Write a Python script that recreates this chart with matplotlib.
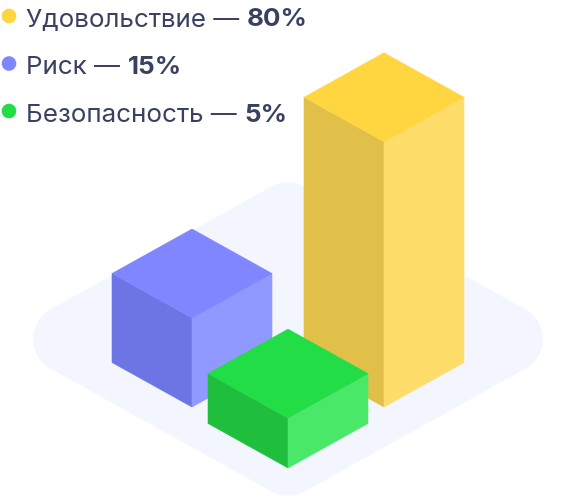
import matplotlib
matplotlib.use("Agg")
import matplotlib.pyplot as plt
from matplotlib.patches import Polygon, Circle
import numpy as np

# ---- data ----
labels = ["Удовольствие", "Риск", "Безопасность"]
shares = [80, 15, 5]
bar_heights = [2.98, 1.0, 0.56]          # drawn height of each block, in cube edges
top_colors = ["#FFD640", "#7F86FF", "#22DD45"]
left_colors = ["#E0C049", "#6C75E3", "#1FBF3D"]
right_colors = ["#FFDD6A", "#8F99FF", "#4AE868"]

# ---- layout (isometric grid) ----
footprints = [(1.2, -1.2), (0.0, 0.0), (1.285, 0.085)]   # back corner of each block (u, v)
OX, OY = 192.0, 319.0      # screen position of grid origin (px)
W, H, V = 80.0, 44.5, 89.0 # px per unit along u/v (horizontal, vertical) and per unit height
plat_center = (0.836, -0.364)
plat_half = 1.38
plat_radius = 34.0
text_color = "#3A4160"
plat_color = "#F3F6FE"

def proj(u, v, z=0.0):
    return (OX + (u - v) * W, OY + (u + v) * H - z * V)

fig = plt.figure(figsize=(5.76, 5.02), dpi=100)
ax = fig.add_axes([0, 0, 1, 1])
ax.set_xlim(0, 576)
ax.set_ylim(502, 0)
ax.axis("off")

# ---- platform: rounded rhombus ----
cu, cv = plat_center
s = plat_half
verts = np.array([proj(cu - s, cv - s), proj(cu + s, cv - s),
                  proj(cu + s, cv + s), proj(cu - s, cv + s)])
cen = verts.mean(axis=0)
n = len(verts)
normals = []
for i in range(n):
    p, q = verts[i], verts[(i + 1) % n]
    d = q - p
    nrm = np.array([d[1], -d[0]]) / np.hypot(*d)
    if np.dot(nrm, (p + q) / 2 - cen) < 0:
        nrm = -nrm
    normals.append(nrm)
outline = []
for i in range(n):
    n_prev = normals[i - 1]
    n_next = normals[i]
    a0 = np.arctan2(n_prev[1], n_prev[0])
    a1 = np.arctan2(n_next[1], n_next[0])
    da = (a1 - a0 + np.pi) % (2 * np.pi) - np.pi
    for t in np.linspace(0, 1, 40):
        a = a0 + da * t
        outline.append(verts[i] + plat_radius * np.array([np.cos(a), np.sin(a)]))
ax.add_patch(Polygon(outline, closed=True, facecolor=plat_color, edgecolor="none", zorder=1))

# ---- blocks ----
order = sorted(range(len(labels)), key=lambda i: footprints[i][0] + footprints[i][1])
z = 2
for i in order:
    u0, v0 = footprints[i]
    h = bar_heights[i]
    top = [proj(u0, v0, h), proj(u0 + 1, v0, h), proj(u0 + 1, v0 + 1, h), proj(u0, v0 + 1, h)]
    left = [proj(u0, v0 + 1, 0), proj(u0 + 1, v0 + 1, 0), proj(u0 + 1, v0 + 1, h), proj(u0, v0 + 1, h)]
    right = [proj(u0 + 1, v0, 0), proj(u0 + 1, v0 + 1, 0), proj(u0 + 1, v0 + 1, h), proj(u0 + 1, v0, h)]
    for face, col in ((left, left_colors[i]), (right, right_colors[i]), (top, top_colors[i])):
        ax.add_patch(Polygon(face, closed=True, facecolor=col, edgecolor=col,
                             linewidth=0.4, zorder=z))
    z += 1

# ---- legend ----
fs = 18.7
baselines = [26.5, 74.0, 121.5]
renderer = fig.canvas.get_renderer()
inv = ax.transData.inverted()
for i, lab in enumerate(labels):
    y = baselines[i]
    ax.add_patch(Circle((9, y - 9.5), 7.3, facecolor=top_colors[i], edgecolor="none", zorder=10))
    t = ax.text(26, y, f"{lab} —", fontsize=fs, color=text_color, va="baseline",
                ha="left", family="Inter", zorder=10)
    bb = t.get_window_extent(renderer)
    x1 = inv.transform((bb.x1, bb.y0))[0]
    ax.text(x1 + 8, y, f"{shares[i]}%", fontsize=fs, color=text_color, va="baseline",
            ha="left", family="Inter", fontweight="bold", zorder=10)

fig.savefig("out.png", dpi=100)
